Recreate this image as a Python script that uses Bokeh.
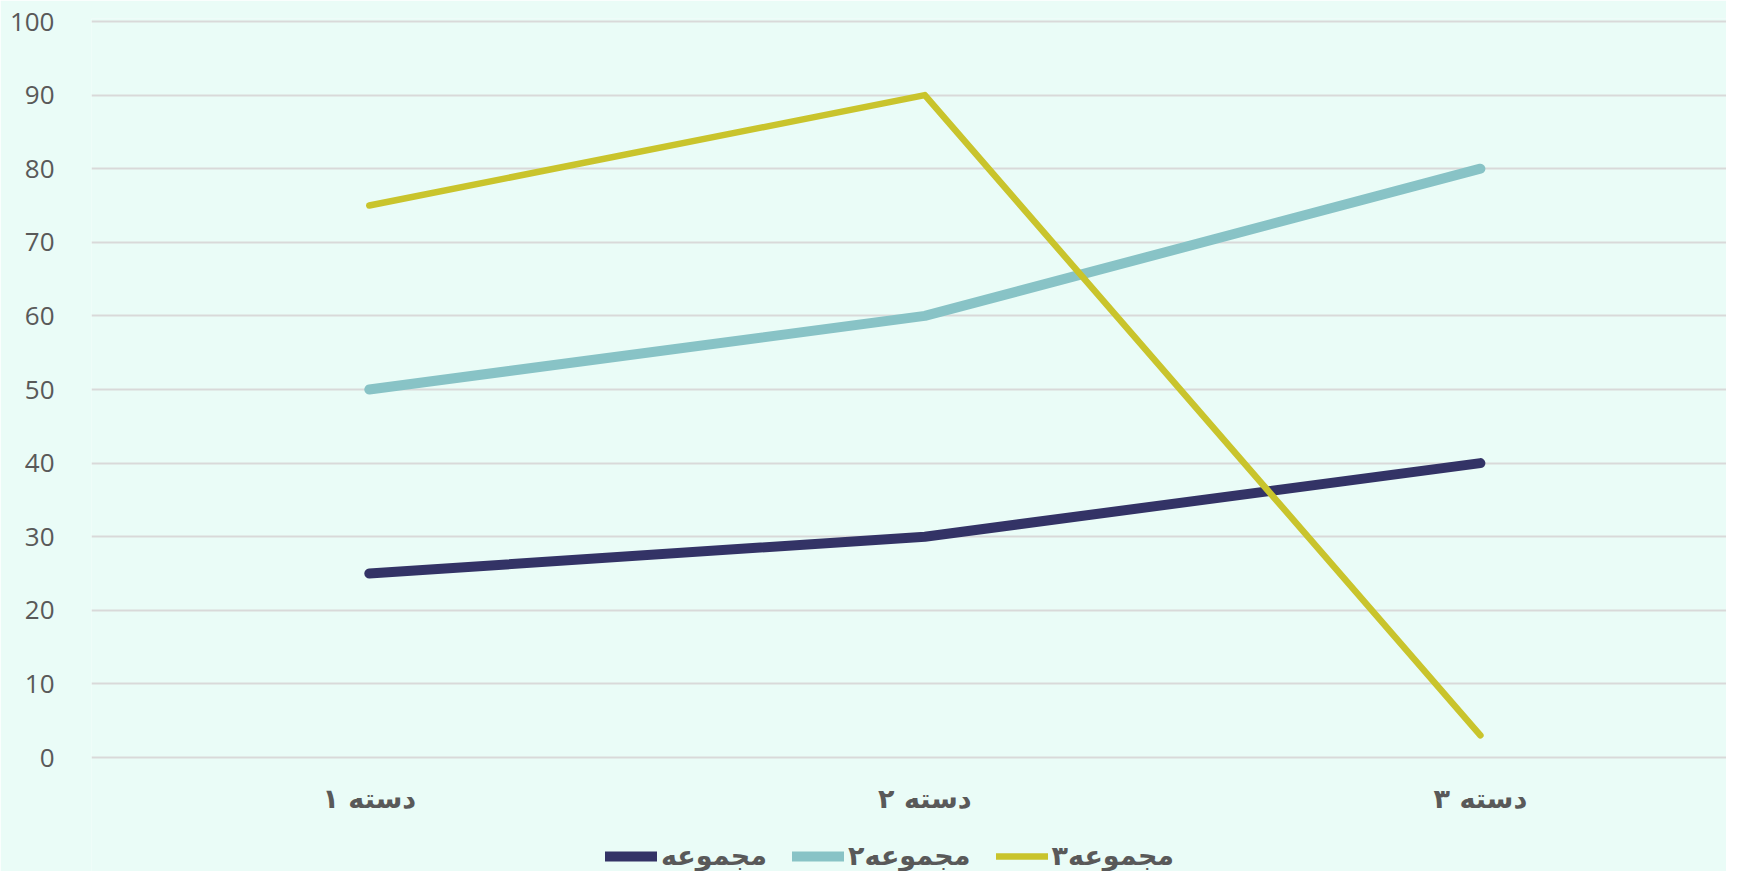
from bokeh.plotting import figure
from bokeh.models import Range1d, FixedTicker, Legend, LegendItem, ColumnDataSource
from bokeh.core.properties import value
from bokeh.embed import file_html
from bokeh.resources import INLINE

categories = ["دسته ۱", "دسته ۲", "دسته ۳"]
series_names = ["مجموعه", "مجموعه۲", "مجموعه۳"]
s1 = [25, 30, 40]
s2 = [50, 60, 80]
s3 = [75, 90, 3]
y_ticks = [0, 10, 20, 30, 40, 50, 60, 70, 80, 90, 100]

colors = ["#333366", "#88C3C6", "#C9C42C"]
widths = [10, 10, 6.5]

xs = list(range(len(categories)))

# layout constants (pixels -> data)
px_per_unit = 7.36
y_top = 100 + 3 / px_per_unit
y_bottom = -(871 - 18 - 100 * px_per_unit - 3) / px_per_unit
label_y = -41 / px_per_unit

p = figure(width=1726, height=871, output_backend="svg", toolbar_location=None,
           x_range=Range1d(-0.5, 2.443), y_range=Range1d(y_bottom, y_top),
           x_axis_location=None,
           min_border_left=91, min_border_right=0, min_border_top=18, min_border_bottom=0)

bg = "#EAFCF7"
p.background_fill_color = bg
p.border_fill_color = bg
p.outline_line_color = None

renderers = []
for ys, c, w in zip([s1, s2, s3], colors, widths):
    r = p.line(xs, ys, line_color=c, line_width=w, line_cap="round", line_join="round")
    renderers.append(r)

p.xgrid.visible = False
p.ygrid.grid_line_color = "#D9D9D9"
p.ygrid.grid_line_width = 2
p.ygrid.ticker = FixedTicker(ticks=y_ticks)

p.yaxis.ticker = FixedTicker(ticks=y_ticks)
p.yaxis.axis_line_color = None
p.yaxis.major_tick_line_color = None
p.yaxis.minor_tick_line_color = None
p.yaxis.major_label_text_font = "Open Sans"
p.yaxis.major_label_text_font_size = "26px"
p.yaxis.major_label_text_color = "#595959"
p.yaxis.major_label_standoff = 31

# category labels under the plot
cat_src = ColumnDataSource(dict(x=xs, y=[label_y] * len(xs), t=categories))
p.text(x="x", y="y", text="t", source=cat_src, text_align="center", text_baseline="middle",
       text_font=value("DejaVu Sans"), text_font_style="bold", text_font_size="27px",
       text_color="#595959")

items = [LegendItem(label=n, renderers=[r]) for n, r in zip(series_names, renderers)]
legend = Legend(items=items, orientation="horizontal", location=(514, 0),
                background_fill_alpha=0, border_line_color=None,
                padding=0, margin=0, spacing=25, glyph_width=52, glyph_height=30,
                label_height=30, label_standoff=4,
                label_text_font="DejaVu Sans", label_text_font_style="bold",
                label_text_font_size="27px", label_text_color="#595959")
p.add_layout(legend, "center")

open("out.html", "w").write(file_html(p, INLINE))
